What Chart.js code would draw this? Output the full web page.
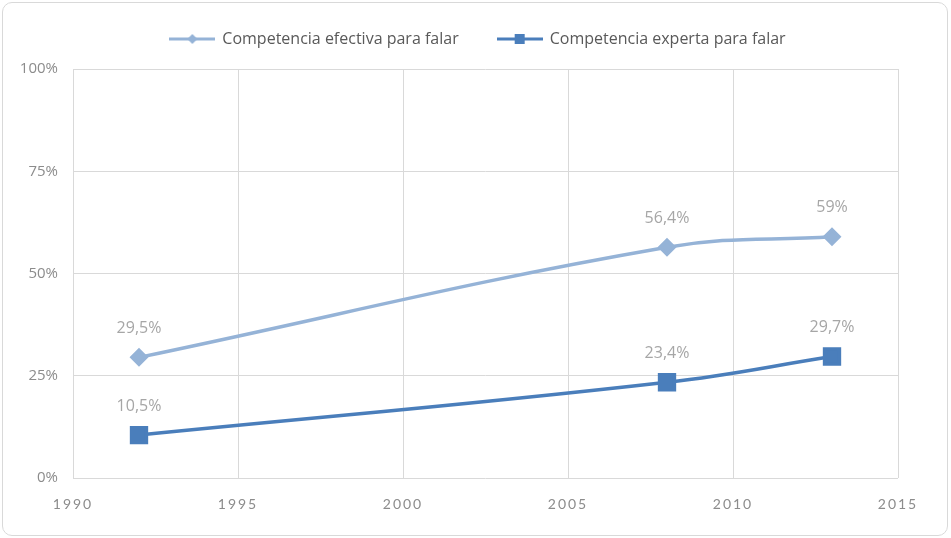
<!DOCTYPE html>
<html>
<head>
<meta charset="utf-8">
<script src="https://cdn.jsdelivr.net/npm/chart.js@4"></script>
<style>
  html, body { margin: 0; padding: 0; background: #fff; }
  #wrap { position: relative; width: 951px; height: 538px; }
  #frame { position: absolute; left: 2px; top: 2px; width: 944px; height: 532px;
           border: 1px solid #d9d9d9; border-radius: 10px; pointer-events: none; }
</style>
</head>
<body>
<div id="wrap">
  <canvas id="chart" width="951" height="538"></canvas>
  <div id="frame"></div>
</div>
<script>
const years = [1992, 2008, 2013];
const efectiva = [29.5, 56.4, 59];
const experta = [10.5, 23.4, 29.7];
const seriesNames = ['Competencia efectiva para falar', 'Competencia experta para falar'];
const xTicks = [1990, 1995, 2000, 2005, 2010, 2015];
const yTicks = [0, 25, 50, 75, 100];

const lightBlue = '#95b3d7';
const darkBlue = '#4a7ebb';
const fontFamily = '"Open Sans", Lato, sans-serif';

function legendIcon(color, style) {
    const c = document.createElement('canvas');
    c.width = 46; c.height = 14;
    const g = c.getContext('2d');
    g.strokeStyle = color; g.lineWidth = 3;
    g.beginPath(); g.moveTo(0, 7); g.lineTo(46, 7); g.stroke();
    g.fillStyle = color;
    g.beginPath();
    if (style === 'diamond') {
        g.moveTo(23, 2); g.lineTo(28, 7); g.lineTo(23, 12); g.lineTo(18, 7);
    } else {
        g.rect(18, 2, 10, 10);
    }
    g.fill();
    return c;
}

function fmt(v) {
    return String(v).replace('.', ',') + '%';
}

// value labels above each point
const valueLabels = {
    id: 'valueLabels',
    afterDatasetsDraw(chart) {
        const ctx = chart.ctx;
        ctx.save();
        ctx.font = '16px ' + fontFamily;
        ctx.fillStyle = '#a6a6a6';
        ctx.textAlign = 'center';
        ctx.textBaseline = 'middle';
        chart.data.datasets.forEach((ds, i) => {
            chart.getDatasetMeta(i).data.forEach((pt, j) => {
                ctx.fillText(fmt(ds.data[j].y), pt.x, pt.y - 29);
            });
        });
        ctx.restore();
    }
};

// wide letter spacing on the year labels, legend placement
const tweaks = {
    id: 'tweaks',
    afterInit(chart) {
        const lg = chart.legend;
        const fit = lg.fit.bind(lg);
        lg.fit = function () { fit(); this.height += 4; };
    },
    afterLayout(chart) {
        const lg = chart.legend;
        lg.top -= 8;
        lg.bottom -= 8;
        lg.left += 29;
        lg.right += 29;
    },
    beforeDraw(chart) {
        const xs = chart.scales.x;
        if (xs._spaced) return;
        const orig = xs.drawLabels.bind(xs);
        xs.drawLabels = function (area) {
            chart.ctx.save();
            chart.ctx.letterSpacing = '2px';
            orig(area);
            chart.ctx.restore();
        };
        xs._spaced = true;
    }
};

const ctx = document.getElementById('chart').getContext('2d');
new Chart(ctx, {
    type: 'line',
    data: {
        datasets: [{
            label: seriesNames[0],
            data: years.map((y, i) => ({ x: y, y: efectiva[i] })),
            borderColor: lightBlue,
            backgroundColor: lightBlue,
            borderWidth: 3.5,
            pointStyle: 'rectRot',
            pointRadius: 7,
            pointHoverRadius: 7,
            tension: 0.4,
            legendIcon: legendIcon(lightBlue, 'diamond')
        }, {
            label: seriesNames[1],
            data: years.map((y, i) => ({ x: y, y: experta[i] })),
            borderColor: darkBlue,
            backgroundColor: darkBlue,
            borderWidth: 3.5,
            pointStyle: 'rect',
            pointRadius: 10.5,
            pointHoverRadius: 10.5,
            tension: 0.4,
            legendIcon: legendIcon(darkBlue, 'square')
        }]
    },
    options: {
        responsive: false,
        animation: false,
        layout: { padding: { top: 0, right: 53, bottom: 0, left: 0 } },
        scales: {
            x: {
                type: 'linear',
                min: 1990,
                max: 2015,
                afterBuildTicks: axis => { axis.ticks = xTicks.map(v => ({ value: v })); },
                afterFit: axis => { axis.height = 60; },
                ticks: {
                    color: '#8c8c8c',
                    font: { family: 'Lato, sans-serif', size: 14 },
                    padding: 18,
                    maxRotation: 0,
                    callback: v => String(v)
                },
                grid: { color: '#d9d9d9', lineWidth: 1, tickLength: 0 },
                border: { display: false }
            },
            y: {
                min: 0,
                max: 100,
                afterBuildTicks: axis => { axis.ticks = yTicks.map(v => ({ value: v })); },
                afterFit: axis => { axis.width = 73; },
                ticks: {
                    color: '#8c8c8c',
                    font: { family: fontFamily, size: 15 },
                    padding: 15,
                    callback: v => v + '%'
                },
                grid: { color: '#d9d9d9', lineWidth: 1, tickLength: 0 },
                border: { display: false }
            }
        },
        plugins: {
            legend: {
                display: true,
                position: 'top',
                labels: {
                    usePointStyle: true,
                    pointStyleWidth: 44,
                    color: '#595959',
                    padding: 39,
                    font: { family: fontFamily, size: 16 },
                    generateLabels: chart => chart.data.datasets.map((ds, i) => ({
                        text: ds.label,
                        pointStyle: ds.legendIcon,
                        fillStyle: ds.borderColor,
                        strokeStyle: ds.borderColor,
                        fontColor: '#595959',
                        lineWidth: 0,
                        hidden: false,
                        datasetIndex: i
                    }))
                }
            },
            tooltip: { enabled: false }
        }
    },
    plugins: [valueLabels, tweaks]
});
</script>
</body>
</html>
